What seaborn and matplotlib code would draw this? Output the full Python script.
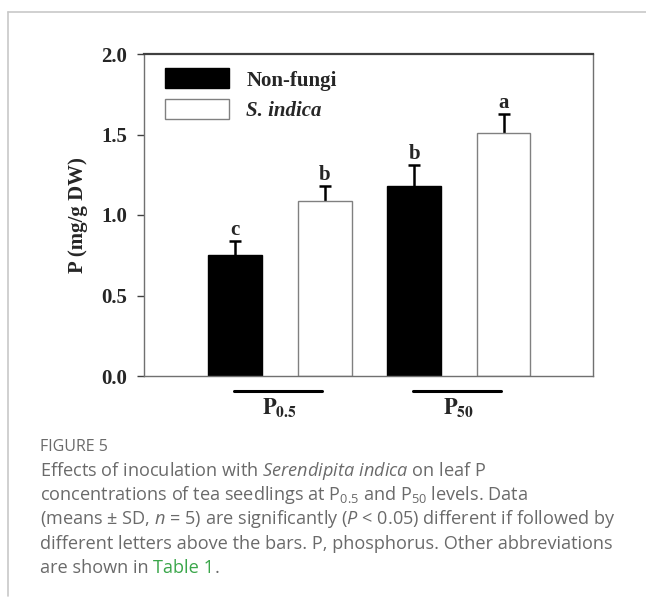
import matplotlib
matplotlib.use("Agg")
import matplotlib.pyplot as plt
import matplotlib.transforms as mtrans
from matplotlib.patches import Patch
from matplotlib.lines import Line2D
from matplotlib.container import BarContainer
import seaborn as sns
import pandas as pd
import numpy as np

# ---- data ----
levels = ["P0.5", "P50"]
level_labels = [r"$\mathbf{P_{0.5}}$", r"$\mathbf{P_{50}}$"]
groups = ["Non-fungi", "S. indica"]
mean_nonfungi = [0.75, 1.18]
mean_sindica = [1.09, 1.51]
sd_nonfungi = [0.09, 0.13]
sd_sindica = [0.09, 0.12]
letters_nonfungi = ["c", "b"]
letters_sindica = ["b", "a"]
yticks = [0.0, 0.5, 1.0, 1.5, 2.0]

df = pd.DataFrame({
    "level": levels * 2,
    "group": [groups[0]] * 2 + [groups[1]] * 2,
    "value": mean_nonfungi + mean_sindica,
})
sds = [sd_nonfungi, sd_sindica]
letters = [letters_nonfungi, letters_sindica]

sns.set_style("white")
plt.rcParams["mathtext.fontset"] = "custom"
plt.rcParams["mathtext.rm"] = "Open Sans"
plt.rcParams["mathtext.it"] = "Open Sans:italic"
plt.rcParams["mathtext.bf"] = "Open Sans:bold"

SERIF = "Liberation Serif"

fig = plt.figure(figsize=(6.46, 5.98), dpi=100)
ax = fig.add_axes([144 / 646, 1 - 376 / 598, (593 - 144) / 646, (376 - 54) / 598])

sns.barplot(data=df, x="level", y="value", hue="group", order=levels,
            hue_order=groups, palette=["black", "white"], width=1.0, gap=0.4,
            errorbar=None, legend=False, ax=ax, linewidth=1.0)

edgecols = ["black", "#808080"]
bar_conts = [c for c in ax.containers if isinstance(c, BarContainer)]
for i, cont in enumerate(bar_conts):
    xs, ys = [], []
    for p in cont.patches:
        p.set_edgecolor(edgecols[i])
        p.set_linewidth(1.0)
        p.set_zorder(2)
        xs.append(p.get_x() + p.get_width() / 2)
        ys.append(p.get_height())
    xs = np.array(xs)
    ys = np.array(ys)
    err = np.array(sds[i])
    _, caps, _ = ax.errorbar(xs, ys, yerr=[np.zeros_like(err), err], fmt="none",
                             ecolor="black", elinewidth=1.8, capsize=4.0,
                             capthick=1.8, zorder=1)
    caps[0].set_visible(False)
    for x, y, e, t in zip(xs, ys, err, letters[i]):
        ax.annotate(t, (x, y + e), xytext=(0, 0.5), textcoords="offset points",
                    ha="center", va="bottom", fontsize=15, fontweight="bold",
                    family=SERIF)

ax.set_xlim(-0.76, 1.75)
ax.set_ylim(0, 2.0)
ax.set_yticks(yticks)
ax.set_yticklabels([f"{v:.1f}" for v in yticks], fontsize=15,
                   fontweight="bold", family=SERIF)
ax.set_xticks([])
ax.set_xlabel("")
ax.set_ylabel("")
ax.tick_params(axis="y", direction="out", length=5, width=1, pad=7,
               left=True, color="#404040")
for s in ["left", "bottom", "right"]:
    ax.spines[s].set_color("#707070")
    ax.spines[s].set_linewidth(1.0)
ax.spines["top"].set_color("#404040")
ax.spines["top"].set_linewidth(1.6)

# group lines and labels below axis
trans = mtrans.blended_transform_factory(ax.transData, ax.transAxes)
for gi, lab in enumerate(level_labels):
    ax.plot([gi - 0.255, gi + 0.235], [-0.047, -0.047], color="black", lw=2.2,
            transform=trans, clip_on=False)
    ax.text(gi, -0.1, lab, transform=trans, ha="center", va="center",
            fontsize=16, math_fontfamily="stix", clip_on=False)

fig.text(78 / 646, 1 - 215 / 598, "P (mg/g DW)", rotation=90, ha="center",
         va="center", fontsize=15, fontweight="bold", family=SERIF)

handles = [Patch(facecolor="black", edgecolor="black", lw=1.0),
           Patch(facecolor="white", edgecolor="#808080", lw=1.0)]
leg = ax.legend(handles, groups, loc="upper left",
                bbox_to_anchor=(0.047, 0.955), frameon=False, borderpad=0,
                borderaxespad=0, handlelength=3.05, handleheight=1.1,
                handletextpad=0.85, labelspacing=0.4,
                prop={"family": SERIF, "weight": "bold", "size": 15})
leg.get_texts()[1].set_style("italic")

# page frame
fig.add_artist(Line2D([8 / 646, 1], [1 - 12 / 598, 1 - 12 / 598],
                      color="#c8c8c8", lw=1.2, transform=fig.transFigure))
fig.add_artist(Line2D([8 / 646, 8 / 646], [1 - 12 / 598, 1 - 596 / 598],
                      color="#c8c8c8", lw=1.2, transform=fig.transFigure))

# caption
cap_col = "#6a6a6a"
CAP = "Open Sans"
CAPSIZE = 13.1
fig.text(40 / 646, 1 - 447 / 598, "FIGURE 5", fontsize=11.5, color=cap_col,
         family=CAP, va="center", ha="left")
cap_lines = [
    r"Effects of inoculation with $\mathit{Serendipita\ indica}$ on leaf P",
    r"concentrations of tea seedlings at P$_{0.5}$ and P$_{50}$ levels. Data",
    r"(means $\pm$ SD, $\mathit{n}$ = 5) are significantly ($\mathit{P}$ < 0.05) different if followed by",
    r"different letters above the bars. P, phosphorus. Other abbreviations",
]
y0 = 471
dy = 24.2
for i, line in enumerate(cap_lines):
    fig.text(40 / 646, 1 - (y0 + i * dy) / 598, line, fontsize=CAPSIZE,
             color=cap_col, family=CAP, va="center", ha="left")
ylast = 1 - (y0 + 4 * dy) / 598
t1 = fig.text(40 / 646, ylast, "are shown in ", fontsize=CAPSIZE, color=cap_col,
              family=CAP, va="center", ha="left")
r = fig.canvas.get_renderer()
bb = t1.get_window_extent(r)
t2 = fig.text(bb.x1 / fig.bbox.width, ylast, "Table 1", fontsize=CAPSIZE,
              color="#3aa64a", family=CAP, va="center", ha="left")
bb2 = t2.get_window_extent(r)
fig.text(bb2.x1 / fig.bbox.width, ylast, ".", fontsize=CAPSIZE, color=cap_col,
         family=CAP, va="center", ha="left")

fig.savefig("out.png", dpi=100)
